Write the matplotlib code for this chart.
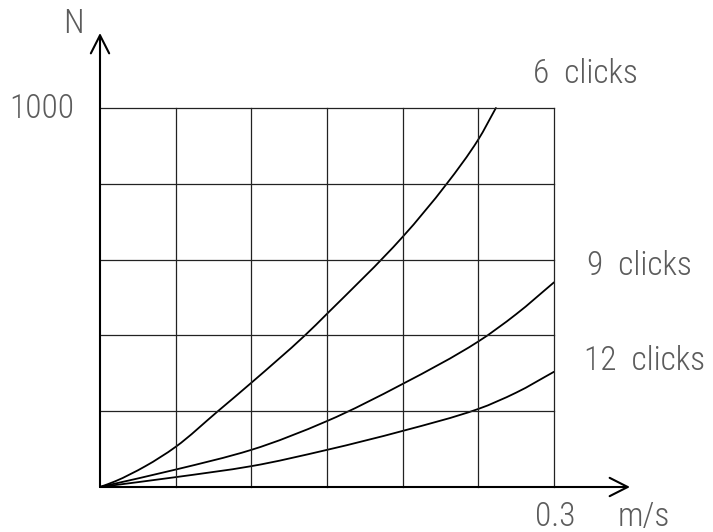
import matplotlib
matplotlib.use("Agg")
import matplotlib.pyplot as plt
from matplotlib.path import Path
from matplotlib.patches import PathPatch
import numpy as np

# Data (speed m/s, force N)
x6 = [0, 0.01, 0.03, 0.05, 0.0779, 0.1, 0.1354, 0.15, 0.2, 0.2291, 0.25, 0.2616]
y6 = [0, 15, 55, 106, 200, 275, 400, 457, 660, 800, 917, 1000]
x9 = [0, 0.05, 0.1, 0.15, 0.2, 0.25, 0.275, 0.3]
y9 = [0, 46, 98, 174, 272, 384, 456, 540]
x12 = [0, 0.05, 0.1, 0.15, 0.2, 0.25, 0.275, 0.3]
y12 = [0, 26, 55, 98, 148, 206, 249, 304]
labels = ["6  clicks", "9  clicks", "12  clicks"]
x_ticks = [0, 0.05, 0.1, 0.15, 0.2, 0.25, 0.3]
y_ticks = [0, 200, 400, 600, 800, 1000]

W, H = 713, 532
fig = plt.figure(figsize=(W / 100, H / 100), dpi=100)
ax = fig.add_axes([100 / W, (H - 487) / H, 454 / W, 379 / H])
ax.set_xlim(0, 0.3)
ax.set_ylim(0, 1000)
ax.axis("off")

grid_c = "#222222"
for xv in x_ticks[1:]:
    ax.plot([xv, xv], [0, 1000], color=grid_c, lw=0.9, clip_on=False)
for yv in y_ticks[1:]:
    ax.plot([0, 0.3], [yv, yv], color=grid_c, lw=0.9, clip_on=False)


def smooth_path(xs, ys):
    """Monotone cubic (Fritsch-Carlson) curve through the points as Bezier segments."""
    x = np.asarray(xs, float)
    y = np.asarray(ys, float)
    h = np.diff(x)
    d = np.diff(y) / h
    m = np.empty_like(x)
    m[0] = d[0]
    m[-1] = d[-1]
    for i in range(1, len(x) - 1):
        w1 = 2 * h[i] + h[i - 1]
        w2 = h[i] + 2 * h[i - 1]
        m[i] = (w1 + w2) / (w1 / d[i - 1] + w2 / d[i])
    verts = [(x[0], y[0])]
    codes = [Path.MOVETO]
    for i in range(len(x) - 1):
        verts += [(x[i] + h[i] / 3, y[i] + m[i] * h[i] / 3),
                  (x[i + 1] - h[i] / 3, y[i + 1] - m[i + 1] * h[i] / 3),
                  (x[i + 1], y[i + 1])]
        codes += [Path.CURVE4] * 3
    return Path(verts, codes)


for xs, ys in [(x6, y6), (x9, y9), (x12, y12)]:
    patch = PathPatch(smooth_path(xs, ys), facecolor="none", edgecolor="black",
                      lw=1.3, clip_on=False, capstyle="round", joinstyle="round")
    ax.add_patch(patch)

# axes arrows
x_end = (630 - 100) / 454 * 0.3
y_end = (487 - 33) / 379 * 1000
ap = dict(arrowstyle="->,head_length=0.65,head_width=0.33", lw=1.5, color="black",
          mutation_scale=20, shrinkA=0, shrinkB=0)
ax.annotate("", xy=(x_end, 0), xytext=(0, 0), arrowprops=ap, annotation_clip=False)
ax.annotate("", xy=(0, y_end), xytext=(0, 0), arrowprops=ap, annotation_clip=False)

tc = "#5c5c5c"
font = dict(family=["Roboto Condensed", "DejaVu Sans"], weight=300, color=tc, fontsize=24)

def ftext(px, py, s, ha="center"):
    fig.text(px / W, 1 - py / H, s, ha=ha, va="center", **font)

ftext(73, 24, "N")
ftext(74, 109, "1000", ha="right")
ftext(585, 74, labels[0])
ftext(639, 266, labels[1])
ftext(645, 361, labels[2])
ftext(555, 517, "0.3")
ftext(644, 517, "m/s")

fig.savefig("out.png", dpi=100, facecolor="white")
